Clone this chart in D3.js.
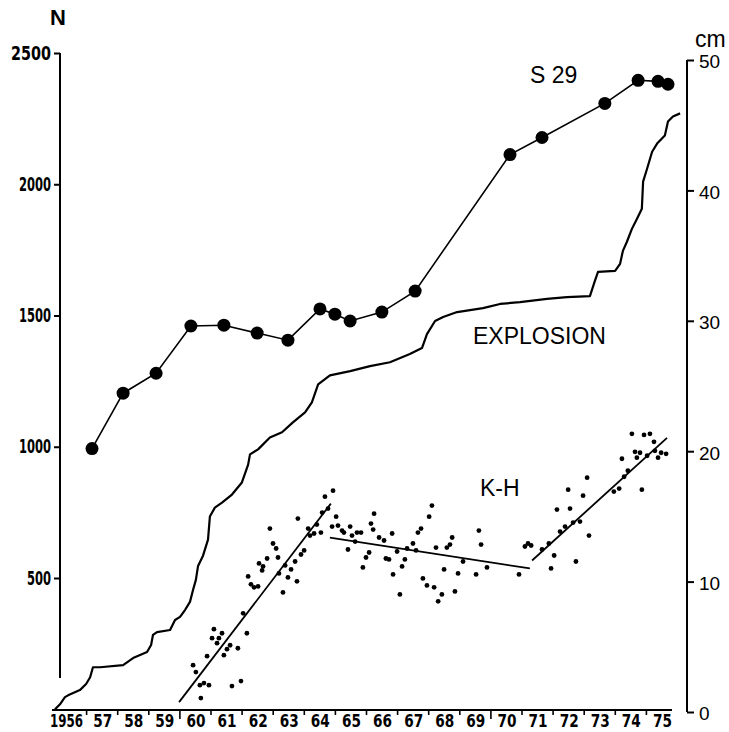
<!DOCTYPE html>
<html><head><meta charset="utf-8">
<script src="https://cdn.jsdelivr.net/npm/d3@7"></script>
<style>
html,body{margin:0;padding:0;background:#fff;}
svg{display:block;}
</style></head>
<body>
<svg id="chart" width="729" height="732"></svg>
<script>
// ---------- DATA ----------
const yearLabels = ["1956","57","58","59","60","61","62","63","64","65","66","67","68","69","70","71","72","73","74","75"];
const leftTicks = [500, 1000, 1500, 2000, 2500];
const rightTicks = [0, 10, 20, 30, 40, 50];

// S29 (left axis, N)
const s29Year = [1957.19,1958.19,1959.25,1960.37,1961.43,1962.50,1963.49,1964.52,1965.00,1965.49,1966.51,1967.58,1970.63,1971.66,1973.68,1974.75,1975.39,1975.71];
const s29N    = [993,1204,1280,1460,1463,1433,1406,1525,1505,1479,1513,1593,2113,2178,2308,2396,2392,2381];

// EXPLOSION cumulative curve (left axis, N)
const explosionYear = [1956.00,1956.16,1956.32,1956.42,1956.80,1957.00,1957.13,1957.22,1957.45,1958.19,1958.51,1958.96,1959.09,1959.15,1959.28,1959.70,1959.86,1960.02,1960.18,1960.34,1960.44,1960.53,1960.60,1960.76,1960.92,1960.98,1961.14,1961.37,1961.69,1962.01,1962.21,1962.27,1962.53,1962.91,1963.30,1963.65,1964.04,1964.26,1964.46,1964.84,1965.49,1966.13,1966.77,1967.41,1967.80,1967.96,1968.22,1968.48,1968.93,1969.76,1970.31,1970.95,1971.82,1972.46,1973.20,1973.36,1973.46,1974.01,1974.17,1974.26,1974.39,1974.55,1974.71,1974.87,1974.91,1975.04,1975.20,1975.36,1975.61,1975.71,1975.87,1976.10];
const explosionN    = [0,19,46,53,73,96,122,160,160,168,195,218,245,283,294,302,340,352,378,409,455,493,546,585,646,734,768,787,818,864,932,971,990,1035,1055,1093,1131,1169,1238,1272,1288,1307,1322,1353,1376,1429,1479,1494,1513,1528,1544,1551,1563,1570,1574,1632,1666,1670,1697,1746,1781,1830,1868,1907,2010,2060,2124,2155,2186,2239,2258,2270];

// K-H scatter (right axis, cm)
const khYear = [1960.44,1960.53,1960.66,1960.79,1960.95,1960.69,1961.69,1961.98,1960.89,1961.11,1961.37,1961.05,1961.27,1961.21,1961.63,1961.53,1961.43,1961.88,1962.17,1962.05,1962.21,1962.30,1962.40,1962.53,1962.56,1962.69,1962.66,1962.82,1963.01,1963.11,1962.91,1963.17,1963.40,1963.59,1963.20,1963.49,1963.78,1963.33,1963.72,1963.91,1964.01,1963.81,1964.14,1964.20,1964.33,1964.42,1964.55,1964.59,1964.68,1964.94,1964.78,1964.91,1965.04,1965.10,1965.23,1965.29,1965.49,1965.55,1965.65,1965.71,1965.84,1965.42,1966.16,1966.26,1966.23,1966.42,1966.58,1966.84,1966.10,1966.00,1965.90,1966.64,1966.74,1967.00,1967.25,1966.87,1967.16,1967.09,1967.32,1967.51,1967.61,1967.67,1967.77,1968.03,1968.12,1967.83,1967.96,1968.19,1968.32,1968.44,1968.25,1968.51,1968.60,1968.70,1968.77,1968.86,1968.96,1969.12,1969.54,1969.63,1969.70,1969.89,1970.92,1971.11,1971.21,1971.31,1971.95,1972.05,1972.75,1973.17,1971.88,1971.66,1972.24,1972.40,1972.66,1972.88,1972.14,1972.56,1972.50,1972.98,1973.11,1973.97,1974.14,1974.30,1974.42,1974.23,1974.87,1974.65,1974.81,1974.71,1975.04,1975.29,1975.49,1975.65,1975.39,1974.55,1974.94,1975.13,1975.26];
const khCm   = [3.59,3.06,2.06,2.22,2.06,1.07,1.99,2.37,4.28,6.35,6.04,5.66,5.66,5.28,5.12,4.82,4.36,4.89,6.04,7.57,10.40,9.79,9.56,9.63,11.39,11.16,10.86,11.77,12.92,12.54,14.07,11.85,11.24,10.93,10.63,10.32,10.02,9.17,11.54,12.08,12.39,14.83,14.07,13.53,13.69,14.37,13.76,15.29,16.51,16.97,15.60,14.22,14.98,14.30,13.91,13.76,14.22,13.53,13.07,13.76,13.76,12.46,14.45,15.21,13.99,13.38,13.15,13.69,12.23,11.85,11.09,11.77,11.70,12.31,11.70,10.55,11.16,9.02,12.54,12.92,12.39,13.76,14.07,14.98,15.83,10.24,9.71,9.56,8.49,9.02,12.61,10.93,12.61,12.84,13.38,9.25,10.63,11.54,10.55,13.91,12.84,11.09,10.55,12.69,12.92,12.77,11.01,12.00,11.54,13.53,12.92,12.46,13.84,14.22,14.53,14.60,15.52,15.60,17.05,16.59,17.97,16.90,17.13,18.04,18.50,19.42,17.05,19.95,19.88,19.50,19.65,20.03,19.88,19.80,19.50,21.33,21.25,21.33,20.72];

// K-H trend segments (start / end)
const khTrendYear = [[1959.99,1964.87],[1964.84,1971.27],[1971.34,1975.68]];
const khTrendCm   = [[0.76,15.98],[13.38,11.01],[11.62,21.02]];

// ---------- DRAW ----------
const svg = d3.select("#chart");
const x = d3.scaleLinear().domain([1956, 1976]).range([55, 677]);
const yN = d3.scaleLinear().domain([0, 2500]).range([709.25, 53]);
const yCm = d3.scaleLinear().domain([0, 50]).range([712, 60]);
const ink = "#000";
const cond = "'DejaVu Sans Condensed','DejaVu Sans',sans-serif";
const sans = "'Liberation Sans','DejaVu Sans',sans-serif";

// Left axis
const gL = svg.append("g").attr("transform","translate(60,0)")
  .call(d3.axisLeft(yN).tickValues(leftTicks).tickSize(6).tickPadding(3).tickFormat(d3.format("d")));
gL.select(".domain").remove();
gL.selectAll(".tick line").attr("stroke",ink).attr("stroke-width",2);
gL.selectAll(".tick text").attr("font-family",cond)
  .attr("font-weight","bold").attr("font-size",19).attr("fill",ink)
  .attr("textLength", d => String(d).length * 8 + (d === 2500 ? 8 : 0))
  .attr("lengthAdjust","spacingAndGlyphs");
svg.append("line").attr("x1",60).attr("x2",60).attr("y1",yN(2500)).attr("y2",678)
  .attr("stroke",ink).attr("stroke-width",2);
svg.append("text").attr("x",58).attr("y",25).attr("text-anchor","middle")
  .attr("font-family",sans).attr("font-weight","bold")
  .attr("font-size",22).text("N");

// Bottom axis
const yearTicks = d3.range(1957, 1976);
const gB = svg.append("g").attr("transform","translate(0,710)");
gB.append("line").attr("x1",52).attr("x2",672).attr("y1",0).attr("y2",0).attr("stroke",ink).attr("stroke-width",2.2);
gB.call(d3.axisBottom(x).tickValues(yearTicks).tickSize(5).tickFormat(""));
gB.select(".domain").remove();
gB.selectAll(".tick line").attr("stroke",ink).attr("stroke-width",1.6)
  .attr("y2", d => d % 10 === 0 ? 9 : 5);
gB.selectAll(".yl").data(yearLabels).enter().append("text").attr("class","yl")
  .attr("x",(d,i)=> i===0 ? 50 : x(1956 + i + 0.5) + 1).attr("y",17)
  .attr("text-anchor",(d,i)=> i===0 ? "start" : "middle")
  .attr("font-family",cond)
  .attr("font-weight","bold").attr("font-size",18).attr("fill",ink)
  .attr("textLength",(d,i)=> i===0 ? 33 : 19)
  .attr("lengthAdjust","spacingAndGlyphs").text(d=>d);

// Right axis
const gR = svg.append("g").attr("transform","translate(687,0)")
  .call(d3.axisRight(yCm).tickValues(rightTicks).tickSize(7).tickPadding(5).tickFormat(d3.format("d")));
gR.select(".domain").remove();
gR.append("line").attr("x1",0).attr("x2",0).attr("y1",yCm(50)).attr("y2",yCm(0)).attr("stroke",ink).attr("stroke-width",2);
gR.selectAll(".tick line").attr("stroke",ink).attr("stroke-width",2);
gR.selectAll(".tick text").attr("font-family",sans)
  .attr("font-size",19).attr("fill",ink).attr("dy","0.42em");
svg.append("text").attr("x",695).attr("y",47)
  .attr("font-family",sans).attr("font-size",23).text("cm");

// EXPLOSION curve
const expData = explosionYear.map((d,i)=>[d, explosionN[i]]);
svg.append("path").datum(expData)
  .attr("d", d3.line().x(d=>x(d[0])).y(d=>yN(d[1])))
  .attr("fill","none").attr("stroke",ink).attr("stroke-width",2.2).attr("stroke-linejoin","round");

// S29 line + dots
const s29Data = s29Year.map((d,i)=>[d, s29N[i]]);
svg.append("path").datum(s29Data)
  .attr("d", d3.line().x(d=>x(d[0])).y(d=>yN(d[1])))
  .attr("fill","none").attr("stroke",ink).attr("stroke-width",1.6);
svg.selectAll(".s29").data(s29Data).enter().append("circle").attr("class","s29")
  .attr("cx",d=>x(d[0])).attr("cy",d=>yN(d[1])).attr("r",6.5).attr("fill",ink);

// K-H scatter
svg.selectAll(".kh").data(khYear.map((d,i)=>[d, khCm[i]])).enter().append("circle").attr("class","kh")
  .attr("cx",d=>x(d[0])).attr("cy",d=>yCm(d[1])).attr("r",2.4).attr("fill",ink);

// K-H trend lines
khTrendYear.forEach((seg,i)=>{
  svg.append("line").attr("x1",x(seg[0])).attr("x2",x(seg[1]))
    .attr("y1",yCm(khTrendCm[i][0])).attr("y2",yCm(khTrendCm[i][1]))
    .attr("stroke",ink).attr("stroke-width",1.8);
});

// Series labels
const lab = (t,xx,yy)=>svg.append("text").attr("x",xx).attr("y",yy)
  .attr("font-family",sans).attr("font-size",23).attr("fill",ink).text(t);
lab("S 29", 530, 83);
lab("EXPLOSION", 473, 344);
lab("K-H", 480, 496);
</script>
</body></html>
